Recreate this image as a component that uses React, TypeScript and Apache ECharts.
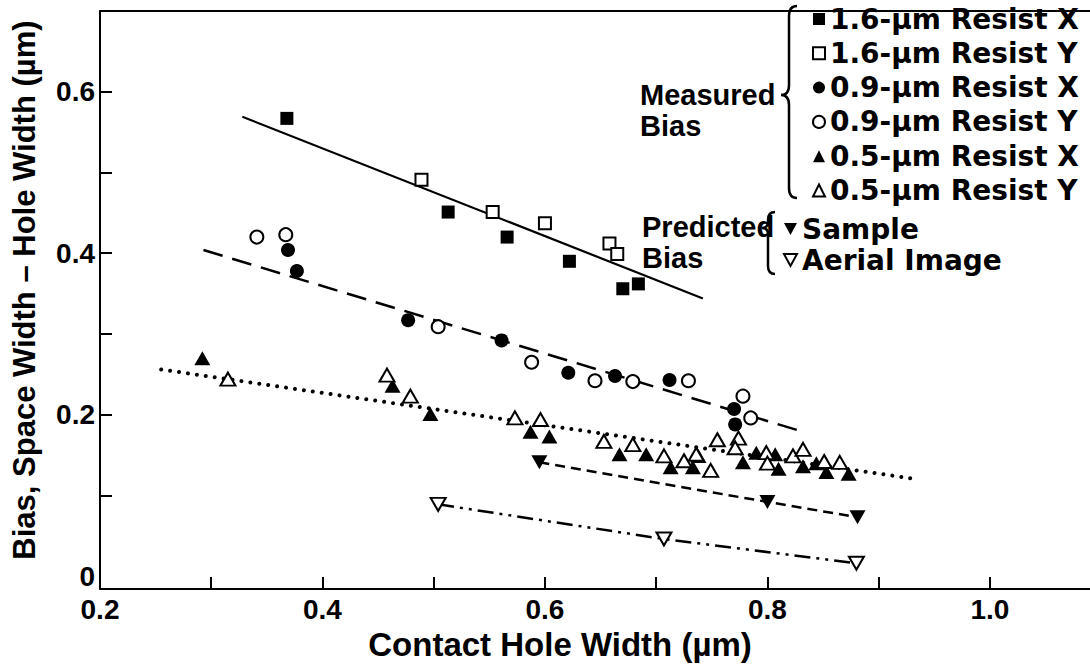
import React, { useEffect, useRef } from "react";
import * as echarts from "echarts";

// ---- axis ticks / labels ----
const xLabelValues = [0.2, 0.4, 0.6, 0.8, 1.0];
const xTickValues = [0.3, 0.4, 0.5, 0.6, 0.7, 0.8, 0.9, 1.0];
const yLabelValues = [0, 0.2, 0.4, 0.6];
const yTickValues = [0.1, 0.2, 0.3, 0.4, 0.5, 0.6];

// ---- measured bias ----
const resist16X = [[0.368, 0.567], [0.513, 0.451], [0.566, 0.42], [0.622, 0.39], [0.67, 0.356], [0.684, 0.362]];
const resist16Y = [[0.489, 0.491], [0.553, 0.451], [0.6, 0.437], [0.658, 0.412], [0.665, 0.399]];
const resist09X = [[0.369, 0.404], [0.377, 0.378], [0.477, 0.317], [0.561, 0.292], [0.621, 0.252], [0.663, 0.248], [0.712, 0.243], [0.77, 0.207], [0.771, 0.188]];
const resist09Y = [[0.341, 0.42], [0.367, 0.423], [0.504, 0.309], [0.588, 0.265], [0.645, 0.242], [0.679, 0.241], [0.729, 0.242], [0.778, 0.223], [0.785, 0.196]];
const resist05X = [[0.292, 0.27], [0.463, 0.236], [0.497, 0.201], [0.587, 0.179], [0.604, 0.173], [0.667, 0.151], [0.691, 0.151], [0.713, 0.135], [0.733, 0.135], [0.738, 0.149], [0.778, 0.141], [0.79, 0.153], [0.807, 0.151], [0.81, 0.133], [0.832, 0.136], [0.844, 0.14], [0.853, 0.129], [0.873, 0.127]];
const resist05Y = [[0.315, 0.244], [0.458, 0.249], [0.479, 0.223], [0.573, 0.196], [0.596, 0.194], [0.653, 0.167], [0.679, 0.163], [0.707, 0.149], [0.725, 0.143], [0.736, 0.151], [0.749, 0.131], [0.755, 0.169], [0.774, 0.171], [0.771, 0.159], [0.799, 0.153], [0.8, 0.14], [0.823, 0.149], [0.832, 0.157], [0.851, 0.142], [0.865, 0.141]];

// ---- fitted lines (end points) ----
const fit16 = [[0.328, 0.569], [0.742, 0.344]];
const fit09 = [[0.293, 0.404], [0.834, 0.178]];
const fit05 = [[0.255, 0.256], [0.93, 0.121]];

// ---- predicted bias ----
const sampleBias = [[0.595, 0.141], [0.8, 0.092], [0.881, 0.073]];
const aerialBias = [[0.504, 0.089], [0.707, 0.046], [0.88, 0.016]];

const measuredNames = [
  "1.6-µm Resist X",
  "1.6-µm Resist Y",
  "0.9-µm Resist X",
  "0.9-µm Resist Y",
  "0.5-µm Resist X",
  "0.5-µm Resist Y",
];
const predictedNames = ["Sample", "Aerial Image"];

const INV_TRI = "path://M0,0L12,0L6,11Z";
const LAB = "Liberation Sans";
const DJV = "DejaVu Sans";

const filled = { color: "#000", opacity: 1 };
const hollow = { color: "#fff", borderColor: "#000", borderWidth: 2, opacity: 1 };

function scatter(name: string, data: number[][], symbol: string, style: any, size: any) {
  return { type: "scatter", name, data, symbol, symbolSize: size, itemStyle: style, z: 4 };
}

function fitLine(name: string, data: number[][], lineStyle: any) {
  return { type: "line", name, data, symbol: "none", silent: true, z: 2, lineStyle: { color: "#000", ...lineStyle } };
}

export default function App() {
  const ref = useRef<HTMLDivElement>(null);
  useEffect(() => {
    if (!ref.current) return;
    try {
      echarts.graphic.registerShape(
        "braceMeasured",
        echarts.graphic.extendPath("M797,6 Q789,6 789,16 L789,85 Q789,95 781,95 Q789,95 789,105 L789,188 Q789,198 797,198", {})
      );
      echarts.graphic.registerShape(
        "bracePredicted",
        echarts.graphic.extendPath("M775,212 Q768,212 768,220 L768,222 Q768,228 762,228 Q768,228 768,234 L768,266 Q768,274 775,274", {})
      );
    } catch (e) {}
    const chart = echarts.init(ref.current, undefined, { renderer: "svg" });
    const axisLine = { show: true, onZero: false, lineStyle: { color: "#000", width: 2 } };
    const tickStyle = { color: "#000", width: 2 };
    const labelStyle = { color: "#000", fontFamily: LAB, fontWeight: "bold", fontSize: 28 };
    const fmt = (v: number) => (v === 0 ? "0" : v.toFixed(1));
    const legendText = { color: "#000", fontFamily: DJV, fontWeight: "bold", fontSize: 28 };
    chart.setOption({
      animation: false,
      backgroundColor: "#fff",
      grid: { left: 100, right: 0, top: 11, bottom: 76 },
      xAxis: [
        {
          type: "value",
          min: 0.2,
          max: 1.09,
          axisLine,
          axisTick: { show: true, inside: true, length: 12, customValues: xTickValues, lineStyle: tickStyle },
          axisLabel: { customValues: xLabelValues, formatter: fmt, margin: 6, ...labelStyle },
          splitLine: { show: false },
          name: "Contact Hole Width (µm)",
          nameLocation: "middle",
          nameGap: 35,
          nameTextStyle: { color: "#000", fontFamily: LAB, fontWeight: "bold", fontSize: 33, padding: [0, 70, 0, 0] },
        },
        {
          type: "value",
          position: "top",
          min: 0.2,
          max: 1.09,
          axisLine,
          axisTick: { show: false },
          axisLabel: { show: false },
          splitLine: { show: false },
        },
      ],
      yAxis: {
        type: "value",
        min: -0.016,
        max: 0.7,
        axisLine,
        axisTick: { show: true, inside: true, length: 12, customValues: yTickValues, lineStyle: tickStyle },
        axisLabel: { customValues: yLabelValues, formatter: fmt, margin: 5, ...labelStyle },
        splitLine: { show: false },
        name: "Bias, Space Width – Hole Width (µm)",
        nameLocation: "middle",
        nameGap: 60,
        nameRotate: 90,
        nameTextStyle: { color: "#000", fontFamily: LAB, fontWeight: "bold", fontSize: 31, padding: [0, 0, 0, 20] },
      },
      legend: [
        {
          orient: "vertical",
          left: 812,
          top: 5,
          padding: 0,
          itemGap: 6.3,
          itemWidth: 12,
          itemHeight: 12,
          selectedMode: false,
          data: measuredNames,
          textStyle: legendText,
        },
        {
          orient: "vertical",
          left: 783,
          top: 215,
          padding: 0,
          itemGap: 3,
          itemWidth: 13,
          itemHeight: 12,
          selectedMode: false,
          data: predictedNames.map((n) => ({ name: n, icon: INV_TRI })),
          textStyle: legendText,
        },
      ],
      graphic: [
        { type: "text", x: 640, y: 95, style: { text: "Measured", fill: "#000", font: `bold 29px "${LAB}"`, verticalAlign: "middle" } },
        { type: "text", x: 640, y: 126, style: { text: "Bias", fill: "#000", font: `bold 29px "${LAB}"`, verticalAlign: "middle" } },
        { type: "text", x: 642, y: 227, style: { text: "Predicted", fill: "#000", font: `bold 29px "${LAB}"`, verticalAlign: "middle" } },
        { type: "text", x: 642, y: 258, style: { text: "Bias", fill: "#000", font: `bold 29px "${LAB}"`, verticalAlign: "middle" } },
        { type: "braceMeasured", style: { stroke: "#000", fill: "none", lineWidth: 2.5 } },
        { type: "bracePredicted", style: { stroke: "#000", fill: "none", lineWidth: 2.5 } },
      ],
      series: [
        fitLine("fit16", fit16, { width: 2.2, type: "solid" }),
        fitLine("fit09", fit09, { width: 2.5, type: [20, 10] }),
        fitLine("fit05", fit05, { width: 4, type: [0.01, 9], cap: "round" }),
        scatter(measuredNames[0], resist16X, "rect", filled, 13),
        scatter(measuredNames[1], resist16Y, "rect", hollow, 12),
        scatter(measuredNames[2], resist09X, "circle", filled, 14),
        scatter(measuredNames[3], resist09Y, "circle", hollow, 13),
        scatter(measuredNames[4], resist05X, "triangle", filled, [16, 14]),
        scatter(measuredNames[5], resist05Y, "triangle", hollow, [15, 13]),
        {
          type: "line",
          name: predictedNames[0],
          data: sampleBias,
          symbol: INV_TRI,
          symbolSize: [16, 14],
          itemStyle: filled,
          lineStyle: { color: "#000", width: 2.5, type: [10, 6] },
          z: 4,
        },
        {
          type: "line",
          name: predictedNames[1],
          data: aerialBias,
          symbol: INV_TRI,
          symbolSize: [15, 13],
          itemStyle: hollow,
          lineStyle: { color: "#000", width: 2.5, type: [16, 6, 3, 6, 3, 6] },
          z: 4,
        },
      ],
    });
    return () => chart.dispose();
  }, []);
  return <div ref={ref} style={{ position: "fixed", left: 0, top: 0, width: 1090, height: 666 }} />;
}
